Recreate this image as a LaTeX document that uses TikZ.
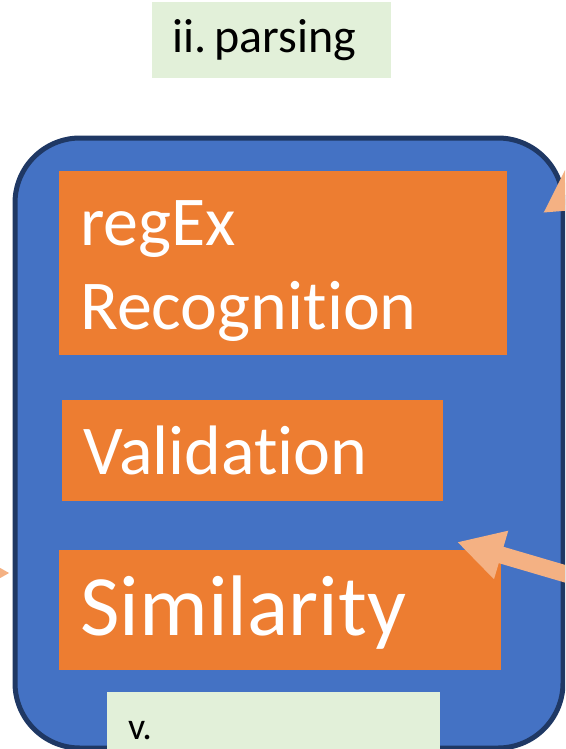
\documentclass[tikz,border=0pt]{standalone}
\usepackage{fontspec}
\setmainfont[Ligatures=NoCommon]{Carlito}
\frenchspacing
\usetikzlibrary{arrows.meta}
\definecolor{paneblue}{HTML}{4472C4}
\definecolor{panenavy}{HTML}{1F3864}
\definecolor{cardorange}{HTML}{ED7D31}
\definecolor{taggreen}{HTML}{E2F0D9}
\definecolor{hintorange}{HTML}{F4B183}
\begin{document}
\begin{tikzpicture}[
    x=1pt, y=-1pt,
    pane/.style={draw=panenavy, line width=5pt, fill=paneblue, rounded corners=65pt, anchor=north west},
    card/.style={fill=cardorange, text=white, anchor=north west, inner xsep=21pt, inner ysep=0pt, align=left},
    tag/.style={fill=taggreen, text=black, anchor=north west, inner xsep=20pt, inner ysep=0pt, align=left},
    hint/.style={draw=hintorange, line width=17pt, -{Triangle[length=46pt,width=47pt]}}
]
    \useasboundingbox (0,0) rectangle (565,749);
    \clip (0,0) rectangle (565,749);

    % Stage title
    \node[tag, text width=199pt, minimum height=76pt, font=\fontsize{48}{58}\selectfont] (parsing) at (152,2) {ii.\hspace{8pt}parsing};

    % Parser frame
    \node[pane, minimum width=548pt, minimum height=610pt] (parser) at (12.5,135.5) {};

    % Steps inside the frame
    \node[card, text width=406pt, minimum height=184pt, text height=50pt, text depth=86pt, font=\fontsize{70}{84}\selectfont] (regex) at (59,171) {regEx\\Recognition};
    \node[card, text width=339pt, minimum height=101pt, font=\fontsize{70}{84}\selectfont] (validation) at (62,400) {Validation};
    \node[card, text width=400pt, minimum height=120pt, text depth=10pt, font=\fontsize{86}{100}\selectfont] (similarity) at (59,550) {Similarity};

    % Next stage, cut off at the bottom
    \node[tag, inner xsep=21pt, text width=291pt, minimum height=57pt, text height=38pt, text depth=0pt, font=\fontsize{38}{46}\selectfont] (next) at (107,692) {v.};

    % Incoming arrows
    \coordinate (regexsrc) at (626,157);
    \coordinate (regextip) at (543,213);
    \coordinate (simsrc) at (600,584);
    \coordinate (simtip) at (457,542);
    \coordinate (parsersrc) at (-80,573);
    \coordinate (parsertip) at (10,573);
    \draw[hint] (regexsrc) -- (regextip);
    \draw[hint] (simsrc) -- (simtip);
    \draw[hint] (parsersrc) -- (parsertip);

\end{tikzpicture}
\end{document}
